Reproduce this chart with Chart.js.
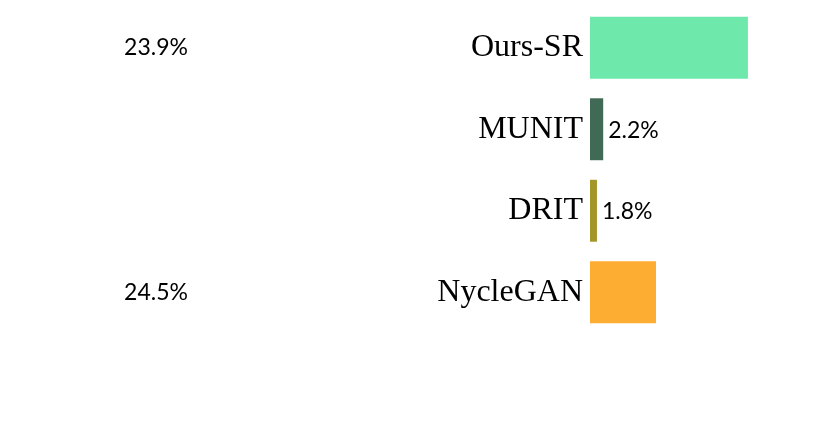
<!DOCTYPE html>
<html>
<head>
<meta charset="utf-8">
<script src="https://cdn.jsdelivr.net/npm/chart.js@4/dist/chart.umd.min.js"></script>
<style>
  html, body { margin: 0; padding: 0; background: #ffffff; overflow: hidden; }
  #wrap { width: 830px; height: 426px; position: relative; }
</style>
</head>
<body>
<div id="wrap"><canvas id="c"></canvas></div>
<script>
// Data
const categories = ["Ours-SR", "MUNIT", "DRIT", "NycleGAN"];
const barValues = [65.8, 5.5, 2.9, 27.5];           // bar lengths (percent of axis span)
const valueLabels = ["23.9%", "2.2%", "1.8%", "24.5%"]; // printed labels
const labelOutside = [true, false, false, true];     // label drawn far left vs. after bar end
const barColors = ["#6EE8AB", "#416A56", "#A39627", "#FDAD31"];

const labelPlugin = {
  id: 'valueLabels',
  afterDatasetsDraw(chart) {
    const ctx = chart.ctx;
    const meta = chart.getDatasetMeta(0);
    ctx.save();
    ctx.font = '23px Lato, "Open Sans", sans-serif';
    ctx.fillStyle = '#000000';
    ctx.textBaseline = 'middle';
    meta.data.forEach((bar, i) => {
      const y = bar.y;
      if (labelOutside[i]) {
        ctx.textAlign = 'center';
        ctx.fillText(valueLabels[i], 156, y);
      } else {
        ctx.textAlign = 'left';
        ctx.fillText(valueLabels[i], bar.x + 5, y + 1);
      }
    });
    ctx.restore();
  }
};

new Chart(document.getElementById('c'), {
  type: 'bar',
  data: {
    labels: categories,
    datasets: [{
      data: barValues,
      backgroundColor: barColors,
      borderWidth: 0,
      barPercentage: 0.76,
      categoryPercentage: 1.0
    }]
  },
  options: {
    indexAxis: 'y',
    responsive: true,
    maintainAspectRatio: false,
    animation: false,
    layout: { padding: { left: 0, right: 0, top: 7, bottom: 93 } },
    plugins: { legend: { display: false }, tooltip: { enabled: false } },
    scales: {
      x: { display: false, min: 0, max: 100 },
      y: {
        grid: { display: false, drawTicks: false },
        border: { display: false },
        ticks: {
          color: '#000000',
          padding: 7,
          font: { family: '"Liberation Serif", "Times New Roman", serif', size: 32 }
        },
        afterFit(scale) {
          scale.width = 590;
          scale.paddingTop = 0;
          scale.paddingBottom = 0;
        }
      }
    }
  },
  plugins: [labelPlugin]
});
</script>
</body>
</html>
